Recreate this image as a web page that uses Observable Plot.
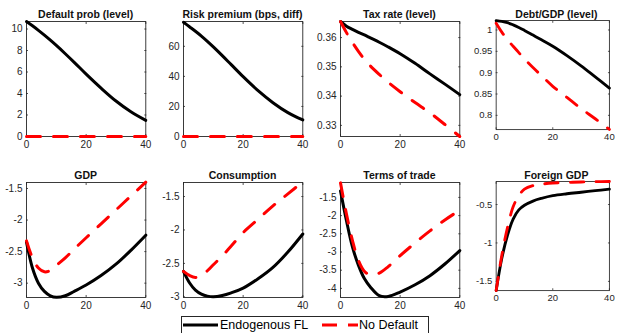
<!DOCTYPE html>
<html><head><meta charset="utf-8">
<script src="https://cdn.jsdelivr.net/npm/d3@7"></script>
<script src="https://cdn.jsdelivr.net/npm/@observablehq/plot@0.6"></script>
<style>
body{margin:0;background:#fff;font-family:"Liberation Sans",Arial,sans-serif;}
#wrap{position:relative;width:620px;height:333px;overflow:hidden;background:#fff;}
.panel{position:absolute;}
.title{position:absolute;font-weight:bold;font-size:10.5px;line-height:12px;text-align:center;color:#111;white-space:nowrap;}
</style></head>
<body><div id="wrap"></div>
<script>
// ---- data ----
const horizon = [0, 2, 4, 6, 8, 10, 13, 16, 20, 25, 30, 35, 40];
const titles = ["Default prob (level)", "Risk premium (bps, diff)", "Tax rate (level)", "Debt/GDP (level)",
                "GDP", "Consumption", "Terms of trade", "Foreign GDP"];
const seriesNames = ["Endogenous FL", "No Default"];

const defaultProbFL = [10.7, 10.3, 9.88, 9.43, 8.96, 8.47, 7.7, 6.9, 5.8, 4.5, 3.3, 2.3, 1.5];
const defaultProbND = [0, 0, 0, 0, 0, 0, 0, 0, 0, 0, 0, 0, 0];
const riskPremFL = [76, 73, 70, 66.8, 63.3, 59.6, 53.8, 47.8, 39.8, 30.5, 22.5, 15.9, 11];
const riskPremND = [0, 0, 0, 0, 0, 0, 0, 0, 0, 0, 0, 0, 0];
const taxRateFL = [0.3655, 0.3639, 0.3628, 0.3618, 0.3609, 0.3599, 0.3584, 0.3568, 0.3545, 0.3512, 0.3476, 0.3441, 0.3405];
const taxRateND = [0.3655, 0.3617, 0.3583, 0.3553, 0.3526, 0.3503, 0.3474, 0.3447, 0.3415, 0.3378, 0.3343, 0.3303, 0.3262];
const debtGdpFL = [1.022, 1.020, 1.017, 1.012, 1.006, 0.999, 0.988, 0.977, 0.962, 0.940, 0.916, 0.890, 0.864];
const debtGdpND = [1.016, 0.995, 0.977, 0.962, 0.947, 0.932, 0.912, 0.893, 0.868, 0.842, 0.816, 0.792, 0.767];
const gdpFL = [-2.35, -2.76, -3.0, -3.13, -3.2, -3.225, -3.2, -3.13, -3.03, -2.88, -2.7, -2.48, -2.24];
const gdpND = [-2.33, -2.6, -2.76, -2.82, -2.8, -2.72, -2.6, -2.46, -2.28, -2.06, -1.84, -1.62, -1.4];
const consFL = [-2.62, -2.79, -2.9, -2.96, -2.99, -3.0, -2.98, -2.94, -2.87, -2.73, -2.56, -2.33, -2.06];
const consND = [-2.62, -2.68, -2.71, -2.68, -2.61, -2.52, -2.39, -2.24, -2.04, -1.84, -1.64, -1.46, -1.28];
const totFL = [-1.32, -2.14, -2.86, -3.36, -3.73, -3.96, -4.2, -4.22, -4.1, -3.9, -3.65, -3.33, -2.96];
const totND = [-1.1, -1.96, -2.68, -3.23, -3.53, -3.63, -3.58, -3.4, -3.1, -2.75, -2.42, -2.12, -1.85];
const foreignFL = [-1.62, -1.2, -0.9, -0.69, -0.57, -0.51, -0.455, -0.42, -0.385, -0.36, -0.34, -0.32, -0.3];
const foreignND = [-1.62, -1.16, -0.8, -0.53, -0.385, -0.30, -0.255, -0.235, -0.22, -0.213, -0.207, -0.203, -0.2];

const xTicks = [0, 20, 40];
const yTicks = [
  [0, 2, 4, 6, 8, 10], [0, 20, 40, 60], [0.33, 0.34, 0.35, 0.36], [0.8, 0.85, 0.9, 0.95, 1],
  [-3, -2.5, -2, -1.5], [-3, -2.5, -2, -1.5], [-4, -3.5, -3, -2.5, -2, -1.5], [-1.5, -1, -0.5]
];
const yDomains = [
  [0, 10.7], [0, 76.5], [0.3262, 0.3655], [0.7666, 1.0223],
  [-3.227, -1.405], [-3.01, -1.29], [-4.25, -1.09], [-1.62, -0.2]
];
const flSeries = [defaultProbFL, riskPremFL, taxRateFL, debtGdpFL, gdpFL, consFL, totFL, foreignFL];
const ndSeries = [defaultProbND, riskPremND, taxRateND, debtGdpND, gdpND, consND, totND, foreignND];

// ---- layout ----
const wrap = document.getElementById("wrap");
const fmt = d => String(Math.round(d * 10000) / 10000);
const ML = 26, MT = 20, PW = 119.3, PH = 115;
const colLeft = c => 26 + c * 156.9;
const rowTop = r => r === 0 ? 20.5 : 182;

for (let i = 0; i < 8; i++) {
  const r = Math.floor(i / 4), c = i % 4;
  const fl = horizon.map((h, j) => ({h, v: flSeries[i][j]}));
  const nd = horizon.map((h, j) => ({h, v: ndSeries[i][j]}));
  const svg = Plot.plot({
    width: ML + PW + 12, height: MT + PH + 22,
    marginLeft: ML, marginRight: 12, marginTop: MT, marginBottom: 22,
    x: {domain: [0, 40]},
    y: {domain: yDomains[i]},
    style: {fontFamily: "'Liberation Sans', Arial, sans-serif", fontSize: "10px", color: "#262626", background: "transparent", overflow: "visible"},
    marks: [
      Plot.axisX({ticks: xTicks, tickSize: 0, tickPadding: 4, tickFormat: fmt, label: null}),
      Plot.axisY({ticks: yTicks[i], tickSize: 0, tickPadding: 4, tickFormat: fmt, label: null}),
      Plot.axisX({ticks: xTicks, anchor: "bottom", tickSize: -2, text: null, label: null, strokeWidth: 0.8}),
      Plot.axisX({ticks: xTicks, anchor: "top", tickSize: -2, text: null, label: null, strokeWidth: 0.8}),
      Plot.axisY({ticks: yTicks[i], anchor: "left", tickSize: -2, text: null, label: null, strokeWidth: 0.8}),
      Plot.axisY({ticks: yTicks[i], anchor: "right", tickSize: -2, text: null, label: null, strokeWidth: 0.8}),
      Plot.frame({stroke: "#262626", strokeWidth: 0.9}),
      Plot.line(fl, {x: "h", y: "v", stroke: "#000", strokeWidth: 3, curve: "catmull-rom"}),
      Plot.line(nd, {x: "h", y: "v", stroke: "#ff0000", strokeWidth: 3, strokeDasharray: "14,13", curve: "catmull-rom"})
    ]
  });
  const div = document.createElement("div");
  div.className = "panel";
  div.style.left = (colLeft(c) - ML) + "px";
  div.style.top = (rowTop(r) - MT) + "px";
  div.appendChild(svg);
  wrap.appendChild(div);
  const t = document.createElement("div");
  t.className = "title";
  t.textContent = titles[i];
  t.style.left = (colLeft(c) - 20) + "px";
  t.style.width = (PW + 40) + "px";
  t.style.top = (rowTop(r) - 13) + "px";
  wrap.appendChild(t);
}

// ---- legend ----
const ns = "http://www.w3.org/2000/svg";
const leg = document.createElementNS(ns, "svg");
leg.setAttribute("width", 250); leg.setAttribute("height", 20);
leg.style.position = "absolute"; leg.style.left = "181px"; leg.style.top = "316px";
leg.innerHTML = `
  <rect x="0.5" y="0.5" width="247" height="25" fill="#fff" stroke="#262626" stroke-width="1"/>
  <line x1="2" x2="37" y1="9" y2="9" stroke="#000" stroke-width="3"/>
  <text x="39" y="13.3" font-size="12.5" fill="#000" font-family="Liberation Sans, Arial, sans-serif">${seriesNames[0]}</text>
  <line x1="141" x2="177" y1="9" y2="9" stroke="#ff0000" stroke-width="3" stroke-dasharray="15,11"/>
  <text x="178" y="13.3" font-size="12.5" fill="#000" font-family="Liberation Sans, Arial, sans-serif">${seriesNames[1]}</text>`;
wrap.appendChild(leg);
</script>
</body></html>
